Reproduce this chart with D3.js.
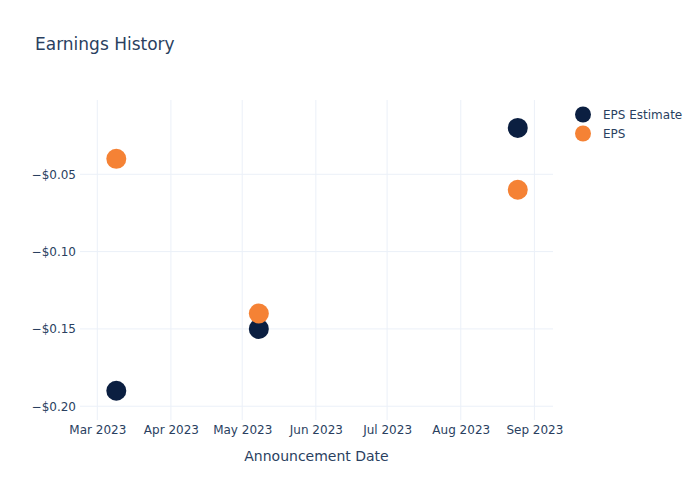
<!DOCTYPE html>
<html>
<head>
<meta charset="utf-8">
<script src="https://cdn.jsdelivr.net/npm/d3@7"></script>
<style>
  body { margin: 0; background: #fff; }
  text { font-family: "DejaVu Sans", Verdana, sans-serif; }
</style>
</head>
<body>
<svg id="chart" width="700" height="500"></svg>
<script>
const dates = ["2023-03-09", "2023-05-08", "2023-08-25"];
const epsEstimate = [-0.19, -0.15, -0.02];
const eps = [-0.04, -0.14, -0.06];
const seriesNames = ["EPS Estimate", "EPS"];
const seriesColors = ["#0b1f41", "#f58235"];
const yTicks = [-0.05, -0.10, -0.15, -0.20];

const svg = d3.select("#chart");
const W = 700, H = 500;
const m = { l: 80, r: 147, t: 100, b: 80 };
const parse = d3.utcParse("%Y-%m-%d");
const day = 86400000;

const x = d3.scaleUtc()
  .domain([new Date(parse("2023-03-01").getTime() - 7.28 * day),
           new Date(parse("2023-09-01").getTime() + 7.83 * day)])
  .range([m.l, W - m.r]);
const y = d3.scaleLinear()
  .domain([-0.2089, -0.00196])
  .range([H - m.b, m.t]);

const grid = "#ebf0f8";
const txt = "#2a3f5f";

// x grid
const xTicks = x.ticks(d3.utcMonth.every(1));
svg.append("g").selectAll("line").data(xTicks).join("line")
  .attr("x1", d => x(d)).attr("x2", d => x(d))
  .attr("y1", m.t).attr("y2", H - m.b)
  .attr("stroke", grid).attr("stroke-width", 1);
// y grid
svg.append("g").selectAll("line").data(yTicks).join("line")
  .attr("x1", m.l).attr("x2", W - m.r)
  .attr("y1", d => y(d)).attr("y2", d => y(d))
  .attr("stroke", grid).attr("stroke-width", 1);

// axes
const fmtY = v => "\u2212$" + Math.abs(v).toFixed(2);
const yAxis = d3.axisLeft(y).tickValues(yTicks).tickFormat(fmtY).tickSize(0).tickPadding(4);
const gy = svg.append("g").attr("transform", `translate(${m.l},0)`).call(yAxis);
gy.select(".domain").remove();
gy.selectAll("text").attr("fill", txt).style("font-size", "12px").attr("font-family", null);

const xAxis = d3.axisBottom(x).ticks(d3.utcMonth.every(1)).tickFormat(d3.utcFormat("%b %Y")).tickSize(0).tickPadding(5);
const gx = svg.append("g").attr("transform", `translate(0,${H - m.b})`).call(xAxis);
gx.select(".domain").remove();
gx.selectAll("text").attr("fill", txt).style("font-size", "12px").attr("font-family", null);

// axis title
svg.append("text").attr("x", (m.l + W - m.r) / 2).attr("y", 461)
  .attr("text-anchor", "middle").attr("fill", txt).style("font-size", "14px")
  .text("Announcement Date");

// title
svg.append("text").attr("x", 35).attr("y", 50)
  .attr("fill", txt).style("font-size", "17px").text("Earnings History");

// points
const series = [epsEstimate, eps];
series.forEach((vals, i) => {
  svg.append("g").selectAll("circle").data(vals).join("circle")
    .attr("cx", (d, j) => x(parse(dates[j])))
    .attr("cy", d => y(d))
    .attr("r", 10)
    .attr("fill", seriesColors[i]);
});

// legend
const lg = svg.append("g");
seriesNames.forEach((n, i) => {
  const yy = 114.5 + i * 19;
  lg.append("circle").attr("cx", 583).attr("cy", yy).attr("r", 8).attr("fill", seriesColors[i]);
  lg.append("text").attr("x", 603).attr("y", yy + 4).attr("fill", txt).style("font-size", "12px").text(n);
});
</script>
</body>
</html>
